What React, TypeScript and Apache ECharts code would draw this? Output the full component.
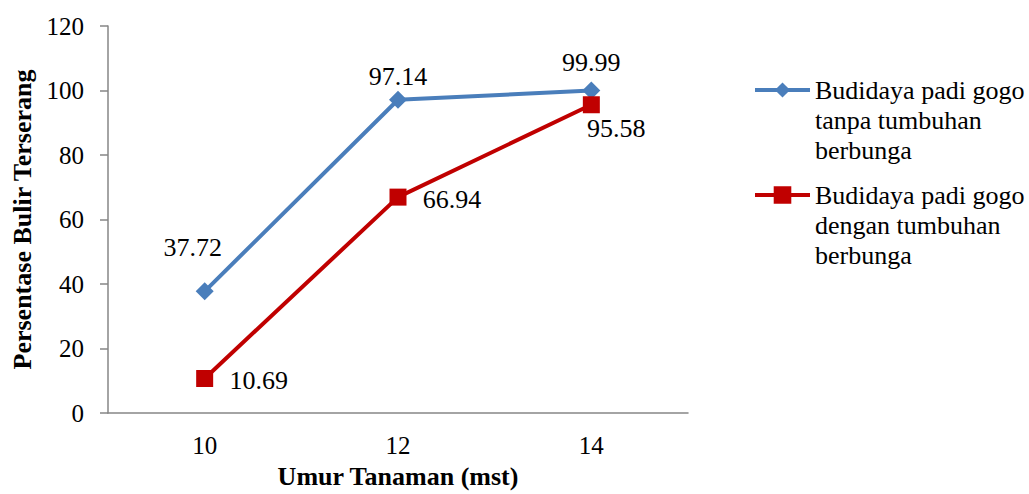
import React, { useEffect, useRef } from "react";
import * as echarts from "echarts";

// Umur tanaman (minggu setelah tanam)
const categories = ["10", "12", "14"];
const seriesNames = [
  "Budidaya padi gogo tanpa tumbuhan berbunga",
  "Budidaya padi gogo dengan tumbuhan berbunga",
];
// two blank lines first so the text block starts level with the legend icon
const legendLines = [
  "\n\nBudidaya padi gogo\ntanpa tumbuhan\nberbunga",
  "\n\nBudidaya padi gogo\ndengan tumbuhan\nberbunga",
];
const tanpaValues = [37.72, 97.14, 99.99];
const denganValues = [10.69, 66.94, 95.58];

const FONT = "Times New Roman";
const BLUE = "#4A7EBB";
const RED = "#C00000";
const AXIS = "#868686";

// label offsets from each marker's centre
const tanpaOffsets: [number, number][] = [[-12, -44], [0, -23], [0, -28]];
const denganOffsets: [number, number][] = [[54, 2], [54, 2], [25, 24]];

function withLabels(values: number[], offsets: [number, number][]) {
  return values.map((v, i) => ({
    value: v,
    label: {
      show: true,
      position: "inside",
      offset: offsets[i],
      color: "#000",
      fontFamily: FONT,
      fontSize: 26,
      textBorderWidth: 0,
      formatter: (p: any) => p.value.toFixed(2),
    },
  }));
}

export default function App() {
  const ref = useRef<HTMLDivElement>(null);

  useEffect(() => {
    if (!ref.current) return;
    const chart = echarts.init(ref.current, undefined, { renderer: "svg" });
    const legendText = { fontFamily: FONT, fontSize: 26, color: "#000", lineHeight: 30 };
    chart.setOption({
      animation: false,
      backgroundColor: "#fff",
      textStyle: { fontFamily: FONT },
      grid: { left: 108, right: 341, top: 26, bottom: 79, containLabel: false },
      legend: [
        {
          data: [seriesNames[0]],
          left: 753,
          top: 90 - 75,
          padding: 0,
          itemWidth: 55,
          itemHeight: 19,
          lineStyle: { width: 4 },
          formatter: () => legendLines[0],
          textStyle: legendText,
          selectedMode: false,
        },
        {
          data: [seriesNames[1]],
          left: 753,
          top: 195 - 75,
          padding: 0,
          itemWidth: 55,
          itemHeight: 22,
          lineStyle: { width: 4 },
          formatter: () => legendLines[1],
          textStyle: legendText,
          selectedMode: false,
        },
      ],
      xAxis: {
        type: "category",
        data: categories,
        boundaryGap: true,
        name: "Umur Tanaman (mst)",
        nameLocation: "middle",
        nameGap: 50,
        nameTextStyle: { fontFamily: FONT, fontSize: 26, fontWeight: "bold", color: "#000" },
        axisLine: { lineStyle: { color: AXIS, width: 1.5 } },
        axisTick: { show: false },
        axisLabel: { fontFamily: FONT, fontSize: 25, color: "#000", margin: 20 },
        splitLine: { show: false },
      },
      yAxis: {
        type: "value",
        min: 0,
        max: 120,
        interval: 20,
        name: "Persentase Bulir Terserang",
        nameLocation: "middle",
        nameGap: 72,
        nameTextStyle: { fontFamily: FONT, fontSize: 26, fontWeight: "bold", color: "#000" },
        axisLine: { show: true, lineStyle: { color: AXIS, width: 1.5 } },
        axisTick: { show: true, inside: false, length: 8, lineStyle: { color: AXIS, width: 1.5 } },
        axisLabel: { fontFamily: FONT, fontSize: 25, color: "#000", margin: 24 },
        splitLine: { show: false },
      },
      series: [
        {
          name: seriesNames[0],
          type: "line",
          data: withLabels(tanpaValues, tanpaOffsets),
          symbol: "diamond",
          symbolSize: 18,
          lineStyle: { color: BLUE, width: 4 },
          itemStyle: { color: BLUE },
        },
        {
          name: seriesNames[1],
          type: "line",
          data: withLabels(denganValues, denganOffsets),
          symbol: "rect",
          symbolSize: 17,
          lineStyle: { color: RED, width: 4 },
          itemStyle: { color: RED },
        },
      ],
    });
    return () => chart.dispose();
  }, []);

  return (
    <div
      ref={ref}
      style={{ position: "fixed", left: 0, top: 0, width: 1029, height: 494, background: "#fff" }}
    />
  );
}
